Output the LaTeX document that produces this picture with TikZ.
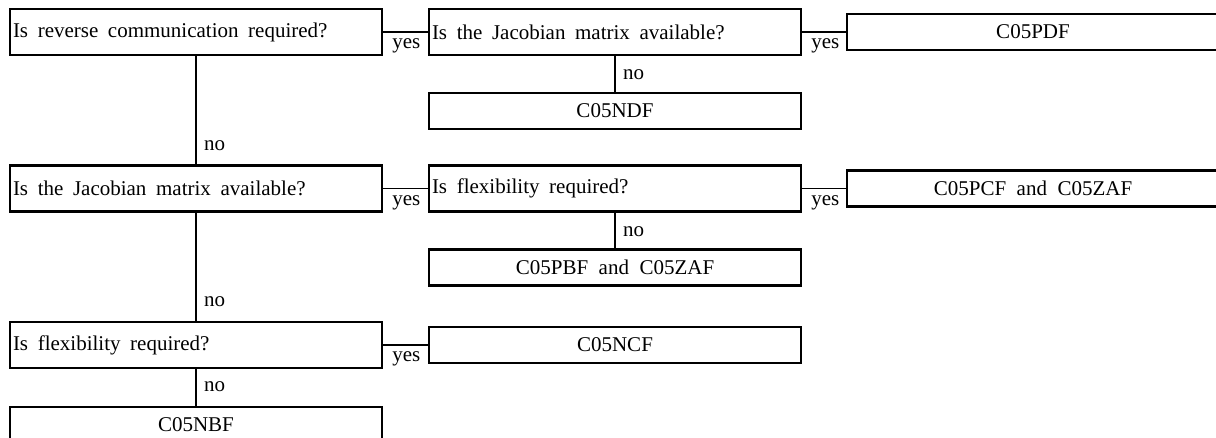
\documentclass[tikz,border=0pt]{standalone}
\usepackage{fontspec}
\setmainfont{Liberation Serif}[WordSpace=2]
\newcommand{\chartfont}{\fontsize{21}{25}\selectfont\parindent=0pt}

\begin{document}
\begin{tikzpicture}[x=1pt,y=-1pt,font=\chartfont,
		question/.style={rectangle,draw,line width=2.2pt,minimum height=46pt,text width=366pt,inner xsep=3pt,
			execute at begin node={\spaceskip=9.6pt\relax}},
		answer/.style={rectangle,draw,line width=2.2pt,minimum height=36pt,minimum width=372pt,inner sep=0pt},
		tag/.style={inner sep=0pt,anchor=base west}]
		\useasboundingbox (0,0) rectangle (1216,438);

		\begin{scope}[every node/.style=question]
			\node (A) at (196,32) {Is reverse communication required?};
			\node (B) at (615,32) {Is the Jacobian matrix available?};
			\node (E) at (196,188.5) {Is the Jacobian matrix available?};
			\node (F) at (615,188.5) {Is flexibility required?};
			\node (I) at (196,345) {Is flexibility required?};
		\end{scope}

		\begin{scope}[every node/.style=answer]
			\node (C) at (1033,32) {C05PDF};
			\node (D) at (615,111) {C05NDF};
			\node (G) at (1033,188.5) {C05PCF and C05ZAF};
			\node (H) at (615,267.5) {C05PBF and C05ZAF};
			\node (J) at (615,345) {C05NCF};
			\node (K) at (196,425) {C05NBF};
		\end{scope}

		\begin{scope}[every edge/.style={draw=black, line width=1.6pt}]
			\path [-] (A) edge (B);
			\path [-] (B) edge (C);
			\path [-] (B) edge (D);
			\path [-] (A) edge (E);
			\path [-] (E) edge (F);
			\path [-] (F) edge (G);
			\path [-] (F) edge (H);
			\path [-] (E) edge (I);
			\path [-] (I) edge (J);
			\path [-] (I) edge (K);
		\end{scope}

		% yes / no labels
		\node [tag] (yA) at ([xshift=9pt,yshift=-17pt]A.east) {yes};
		\node [tag] (yB) at ([xshift=9pt,yshift=-17pt]B.east) {yes};
		\node [tag] (yE) at ([xshift=9pt,yshift=-17pt]E.east) {yes};
		\node [tag] (yF) at ([xshift=9pt,yshift=-17pt]F.east) {yes};
		\node [tag] (yI) at ([xshift=9pt,yshift=-17pt]I.east) {yes};
		\node [tag] (nD) at ([xshift=8pt,yshift=12pt]D.north) {no};
		\node [tag] (nE) at ([xshift=8pt,yshift=14pt]E.north) {no};
		\node [tag] (nH) at ([xshift=8pt,yshift=12pt]H.north) {no};
		\node [tag] (nI) at ([xshift=8pt,yshift=14pt]I.north) {no};
		\node [tag] (nK) at ([xshift=8pt,yshift=14pt]K.north) {no};

	\end{tikzpicture}
\end{document}
